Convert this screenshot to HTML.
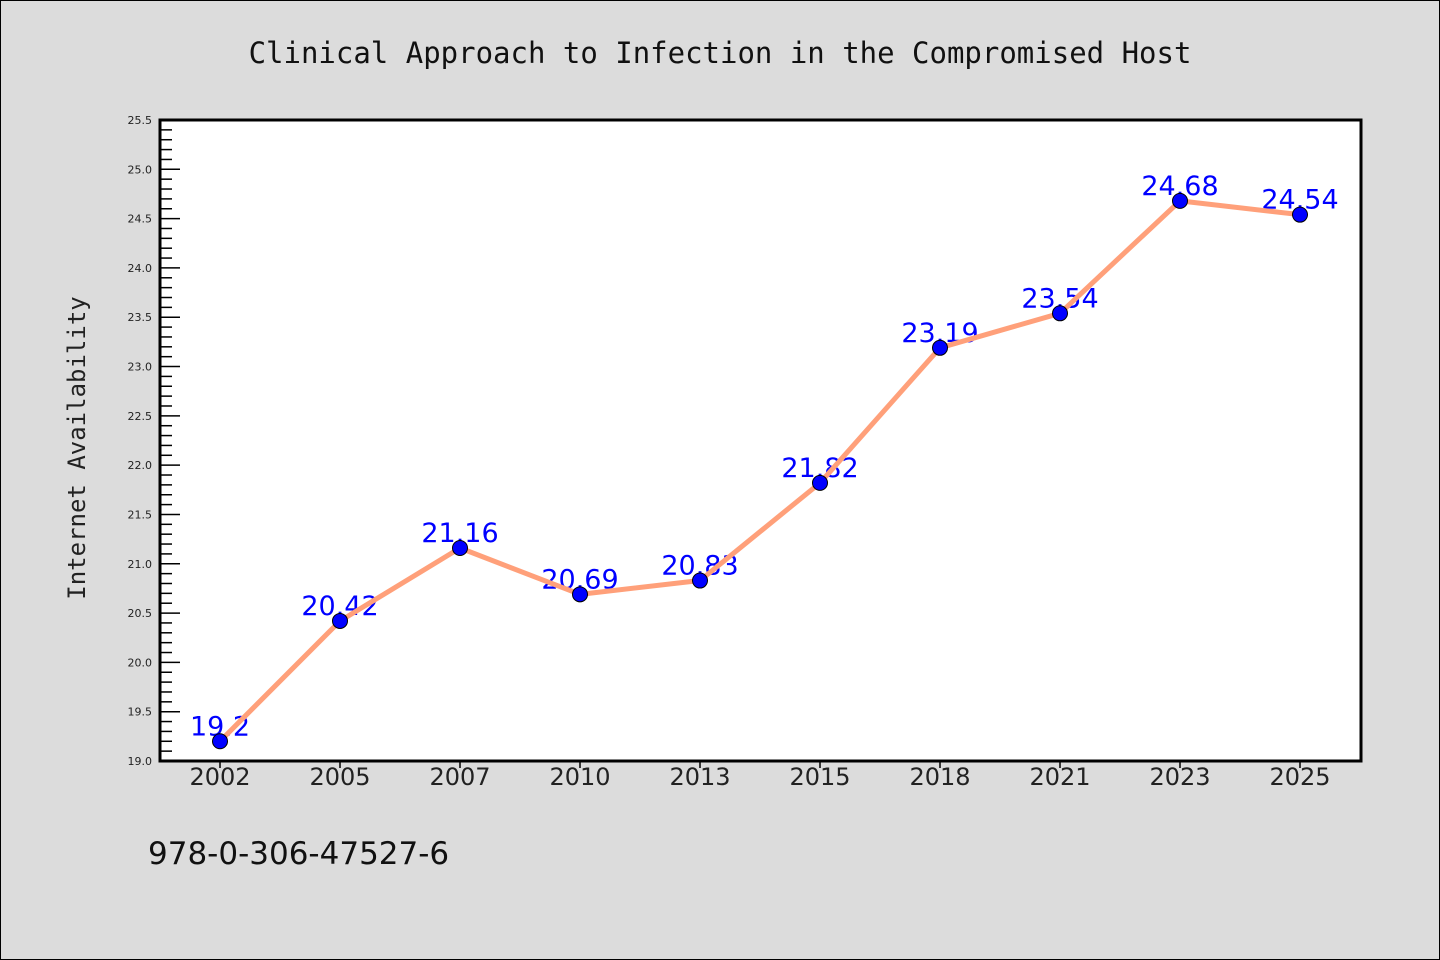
<!DOCTYPE html>
<html><head><meta charset="utf-8"><style>
html,body{margin:0;padding:0;background:#dcdcdc;}
svg{display:block;}
</style></head><body>
<svg id="chart" width="1440" height="960" viewBox="0 0 1440 960" xmlns="http://www.w3.org/2000/svg">
<rect x="0.5" y="0.5" width="1439" height="959" fill="#dcdcdc" stroke="#000"/>
<text x="720" y="63" text-anchor="middle" font-family="'WenQuanYi Zen Hei Mono','DejaVu Sans Mono','Liberation Mono',monospace" font-size="29" fill="#111">Clinical Approach to Infection in the Compromised Host</text>
<rect x="160" y="120" width="1201" height="641" fill="#fff"/>
<g id="yticks"></g>
<g id="xticks"></g>
<text transform="translate(85,448) rotate(-90)" text-anchor="middle" font-family="'WenQuanYi Zen Hei Mono','DejaVu Sans Mono',monospace" font-size="24" fill="#222">Internet Availability</text>
<g id="labels"></g>
<path id="line" fill="none" stroke="#ffa07a" stroke-width="5" stroke-linejoin="round"/>
<g id="points"></g>
<rect x="160" y="120" width="1201" height="641" fill="none" stroke="#000" stroke-width="3"/>
<text x="148" y="864" font-family="'WenQuanYi Zen Hei','DejaVu Sans',sans-serif" font-size="31" fill="#111">978-0-306-47527-6</text>
</svg>
<script>
const categories = ["2002","2005","2007","2010","2013","2015","2018","2021","2023","2025"];
const values = [19.2,20.42,21.16,20.69,20.83,21.82,23.19,23.54,24.68,24.54];
const valueLabels = ["19.2","20.42","21.16","20.69","20.83","21.82","23.19","23.54","24.68","24.54"];
const yMin = 19.0, yMax = 25.5;
const NS = "http://www.w3.org/2000/svg";
const L=160,R=1361,T=120,B=761;
function yScale(v){return B-(v-yMin)/(yMax-yMin)*(B-T);}
function xScale(i){return 220+i*(R-L-120*0+0)/ (categories.length) * 0 + i*120;}
function mk(tag,attrs,parent){const e=document.createElementNS(NS,tag);for(const k in attrs)e.setAttribute(k,attrs[k]);parent.appendChild(e);return e;}
const yt=document.getElementById('yticks');
for(let k=0;k<=65;k++){const v=yMin+k*0.1;const y=yScale(v);const major=k%5===0;
 const t=mk('line',{x1:L,x2:L+(major?20:12),y1:y,y2:y,stroke:'#000','stroke-width':1.5},yt);
 
 if(major){const tx=mk('text',{x:152,y:y+4,'text-anchor':'end','font-family':"'DejaVu Sans',sans-serif",'font-size':11,fill:'#222'},yt);tx.textContent=v.toFixed(1);
 }}
const xt=document.getElementById('xticks');
categories.forEach((c,i)=>{const x=xScale(i);
 const t=mk('line',{x1:x,x2:x,y1:B,y2:B+7,stroke:'#000','stroke-width':1.5},xt);
 
 const tx=mk('text',{x:x,y:785,'text-anchor':'middle','font-family':"'WenQuanYi Zen Hei','DejaVu Sans',sans-serif",'font-size':24,fill:'#222'},xt);tx.textContent=c;
 });
const lg=document.getElementById('labels');
values.forEach((v,i)=>{const tx=mk('text',{x:xScale(i),y:yScale(v)-6,'text-anchor':'middle','font-family':"'WenQuanYi Zen Hei','DejaVu Sans',sans-serif",'font-size':27,fill:'#0000ff'},lg);tx.textContent=valueLabels[i];
 });
document.getElementById('line').setAttribute('d',values.map((v,i)=>(i?'L':'M')+xScale(i)+' '+yScale(v)).join(' '));
const pg=document.getElementById('points');
values.forEach((v,i)=>{const c=mk('circle',{cx:xScale(i),cy:yScale(v),r:7.5,fill:'#0000ff',stroke:'#000','stroke-width':1},pg);
 });
</script>
</body></html>
